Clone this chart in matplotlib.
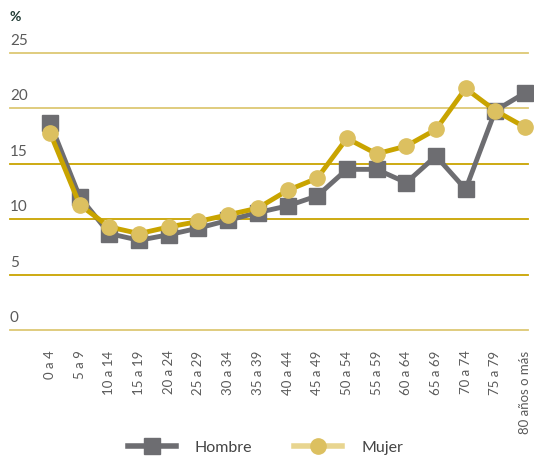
import matplotlib.pyplot as plt
from matplotlib.transforms import blended_transform_factory

plt.rcParams['font.family'] = ['Lato', 'DejaVu Sans']

grupos = ['0 a 4', '5 a 9', '10 a 14', '15 a 19', '20 a 24', '25 a 29', '30 a 34',
          '35 a 39', '40 a 44', '45 a 49', '50 a 54', '55 a 59', '60 a 64', '65 a 69',
          '70 a 74', '75 a 79', '80 años o más']
hombre = [18.7, 12.0, 8.7, 8.1, 8.6, 9.2, 9.9, 10.6, 11.2, 12.1, 14.5, 14.5, 13.3,
          15.7, 12.7, 19.8, 21.4]
mujer = [17.8, 11.3, 9.3, 8.7, 9.3, 9.8, 10.4, 11.0, 12.6, 13.7, 17.3, 15.9, 16.6,
         18.1, 21.8, 19.8, 18.3]
y_ticks = [0, 5, 10, 15, 20, 25]

gris = '#6d6d71'
oro = '#c9a400'
oro_claro = '#dcc060'

fig = plt.figure(figsize=(5.34, 4.6), dpi=100)
ax = fig.add_axes([0.0187, 0.2804, 0.97, 0.6022])

# lineas horizontales, alternando tono
for v in y_ticks:
    c = '#ddc874' if v in (0, 20, 25) else oro
    ax.axhline(v, color=c, linewidth=1.3, zorder=1, clip_on=False)

x = list(range(len(grupos)))
ax.plot(x, hombre, color=gris, linewidth=3.5, marker='s', markersize=11,
        markerfacecolor=gris, markeredgecolor=gris, clip_on=False, zorder=3,
        label='Hombre')
ax.plot(x, mujer, color=oro, linewidth=3.5, marker='o', markersize=11,
        markerfacecolor=oro_claro, markeredgecolor=oro_claro, clip_on=False, zorder=4,
        label='Mujer')

ax.set_xlim(-1.35, 16.1)
ax.set_ylim(0, 25)
for s in ax.spines.values():
    s.set_visible(False)
ax.set_yticks([])
ax.set_xticks(x)
ax.set_xticklabels(grupos, rotation=90, fontsize=9.5, color='#5a5a5a')
ax.tick_params(axis='x', length=0, pad=14)

trans = blended_transform_factory(ax.transAxes, ax.transData)
for v in y_ticks:
    ax.text(0.0, v + 0.55, str(v), transform=trans, fontsize=11, color='#5a5a5a',
            ha='left', va='bottom')
fig.text(0.0187, 0.962, '%', fontsize=10, fontweight='bold', color='#1f3a33',
         ha='left', va='center')

# leyenda
h1, = ax.plot([], [], color=gris, linewidth=4, marker='s', markersize=11)
h2, = ax.plot([], [], color='#e8d590', linewidth=4, marker='o', markersize=11,
              markerfacecolor=oro_claro, markeredgecolor=oro_claro)
fig.legend([h1, h2], ['Hombre', 'Mujer'], loc='center', bbox_to_anchor=(0.497, 0.026),
           ncol=2, frameon=False, fontsize=11.5, handlelength=3.0, columnspacing=2.6,
           handletextpad=1.2, labelcolor='#444444')

fig.savefig('out.png', dpi=100)
